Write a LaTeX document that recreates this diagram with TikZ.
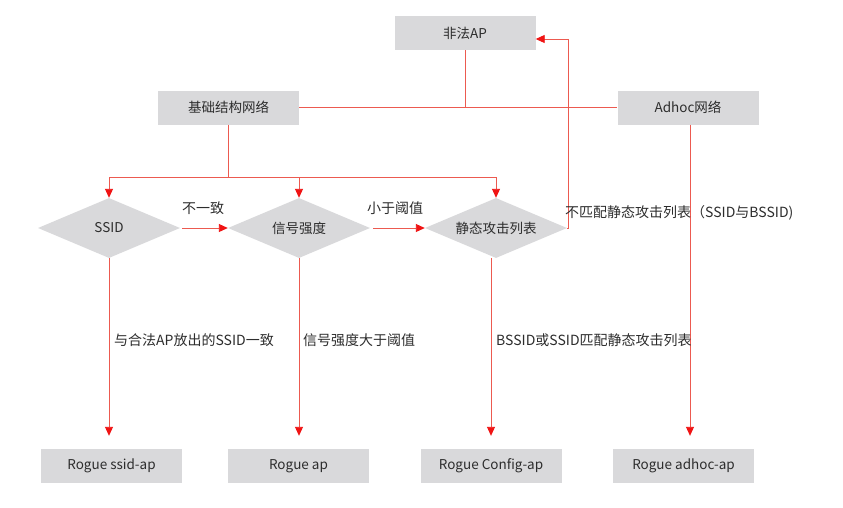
\documentclass[tikz,border=0pt]{standalone}
\usepackage{fontspec}
\setmainfont{Noto Sans CJK SC}
\usetikzlibrary{shapes.geometric,arrows.meta}
\definecolor{boxgray}{RGB}{217,217,219}
\definecolor{linered}{RGB}{236,90,80}
\definecolor{tipred}{RGB}{240,20,20}
\definecolor{txt}{RGB}{45,45,45}
\tikzset{
  box/.style={fill=boxgray, minimum width=141pt, minimum height=34pt, inner sep=0pt, text=txt, font=\fontsize{13.5}{15}\selectfont},
  dia/.style={diamond, fill=boxgray, minimum width=142pt, minimum height=60pt, aspect=2.37, inner sep=0pt, text=txt, font=\fontsize{13.5}{15}\selectfont},
  lab/.style={text=txt, inner sep=0pt, font=\fontsize{14}{16}\selectfont},
  conn/.style={draw=linered, line width=0.9pt},
  arr/.style={conn, -{Triangle[length=9pt,width=8pt,color=tipred]}},
}
\begin{document}
\begin{tikzpicture}[x=1pt,y=-1pt]
\useasboundingbox[fill=white] (0,0) rectangle (843,507);
% boxes
\node[box] (illegal) at (465,33) {非法AP};
\node[box] (infra) at (228.5,107.5) {基础结构网络};
\node[box] (adhoc) at (688,107.5) {Adhoc网络};
\node[dia] (d1) at (109,228) {SSID};
\node[dia] (d2) at (299,228) {信号强度};
\node[dia] (d3) at (496,228) {静态攻击列表};
\node[box] (r1) at (111.5,466) {Rogue ssid-ap};
\node[box] (r2) at (298.5,466) {Rogue ap};
\node[box] (r3) at (491,466) {Rogue Config-ap};
\node[box] (r4) at (683.5,466) {Rogue adhoc-ap};
\coordinate (bus) at (0,177);
% top connections
\draw[conn] (infra.east) -- (adhoc.west);
\draw[conn] (illegal.south) -- (illegal.south |- infra.east);
\draw[conn] (infra.south) -- (infra.south |- bus);
\draw[conn] (d1.north |- bus) -- (d3.north |- bus);
\draw[arr] (d1.north |- bus) -- (d1.north);
\draw[arr] (d2.north |- bus) -- (d2.north);
\draw[arr] (d3.north |- bus) -- (d3.north);
% horizontal decisions
\draw[arr, shorten <=2pt] (d1.east) -- (d2.west);
\draw[arr, shorten <=3pt] (d2.east) -- (d3.west);
\draw[arr] (d3.east) -- ++(1,0) |- ([yshift=-6pt]illegal.east);
% down arrows
\draw[arr, shorten >=13pt] (d1.south) -- (d1.south |- r1.north);
\draw[arr, shorten >=13pt] (d2.south) -- (d2.south |- r2.north);
\draw[arr, shorten >=13pt] (r3.north |- d3.south) -- (r3.north);
\draw[arr, shorten >=13pt] ([xshift=2pt]adhoc.south) -- ([xshift=2pt]adhoc.south |- r4.north);
% labels
\node[lab] (l1) at (203,208) {不一致};
\node[lab] (l2) at (395,208) {小于阈值};
\node[lab, anchor=west] (l3) at (565,213) {不匹配静态攻击列表（SSID与BSSID)};
\node[lab, anchor=west] (l4) at (114,340) {与合法AP放出的SSID一致};
\node[lab, anchor=west] (l5) at (303,340) {信号强度大于阈值};
\node[lab, anchor=west] (l6) at (496,340) {BSSID或SSID匹配静态攻击列表};
\end{tikzpicture}
\end{document}
